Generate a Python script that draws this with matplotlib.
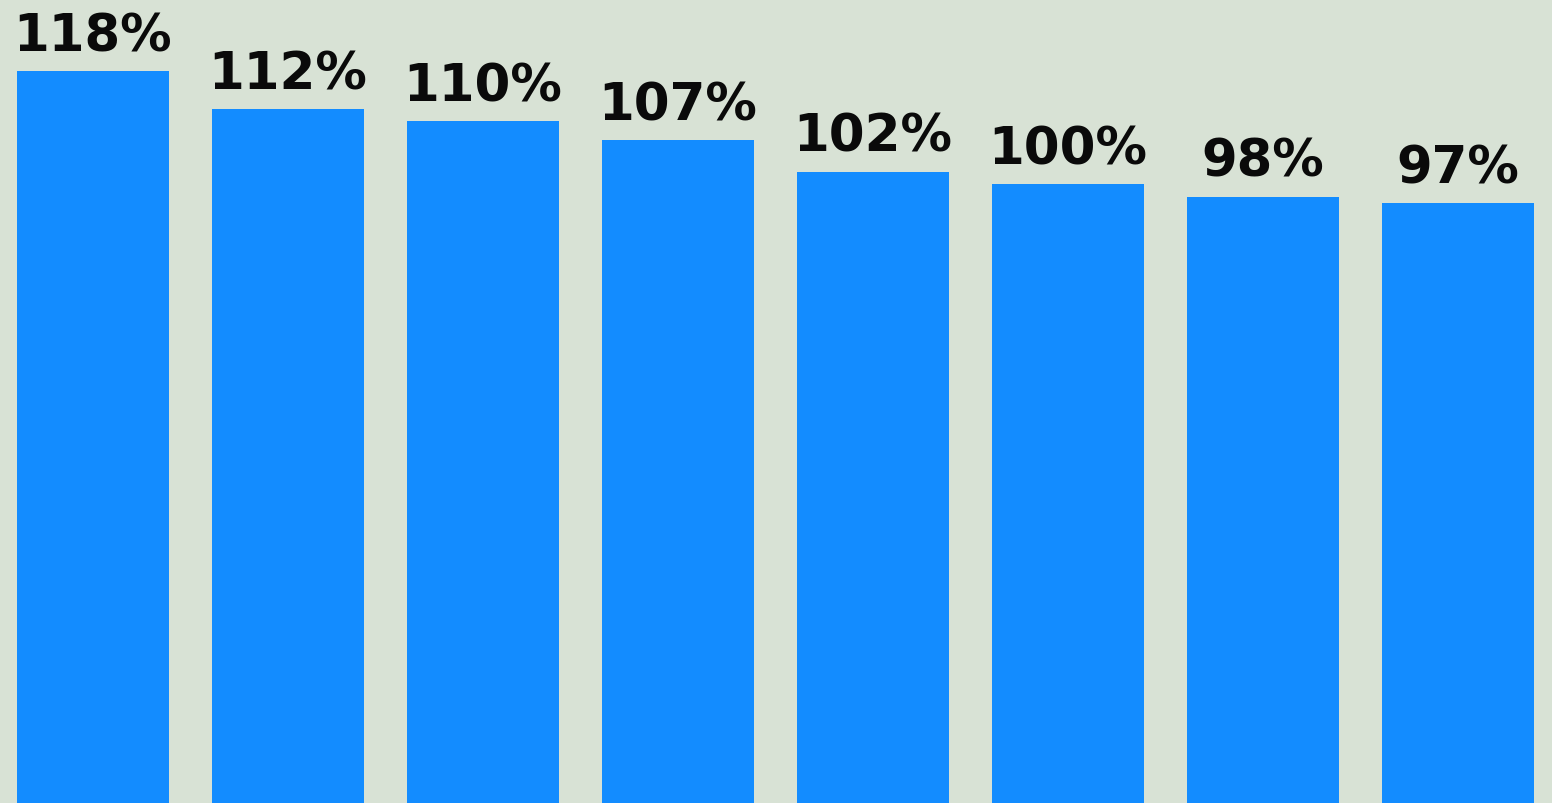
import matplotlib

matplotlib.use("Agg")
import matplotlib.pyplot as plt

# 막대별 값 (%)
categories = ["A", "B", "C", "D", "E", "F", "G", "H"]
values = [118, 112, 110, 107, 102, 100, 98, 97]
labels = [f"{v}%" for v in values]

BG = "#d8e2d5"
BAR = "#138cff"

fig = plt.figure(figsize=(15.52, 8.04), dpi=100, facecolor=BG)
ax = fig.add_axes([0, 0, 1, 1])
ax.set_facecolor(BG)

x = list(range(len(categories)))
bars = ax.bar(x, values, width=0.78, color=BAR, edgecolor="none")

# 막대 위에 값 표시
for bar, lab in zip(bars, labels):
    ax.annotate(
        lab,
        (bar.get_x() + bar.get_width() / 2, bar.get_height()),
        xytext=(0, 7),
        textcoords="offset points",
        ha="center",
        va="bottom",
        fontsize=37,
        fontweight="bold",
        color="#0a0a0a",
    )

ax.set_xlim(-0.477, 7.482)
ax.set_ylim(1.4, 129.5)
ax.axis("off")

fig.savefig("out.png", dpi=100, facecolor=BG)
